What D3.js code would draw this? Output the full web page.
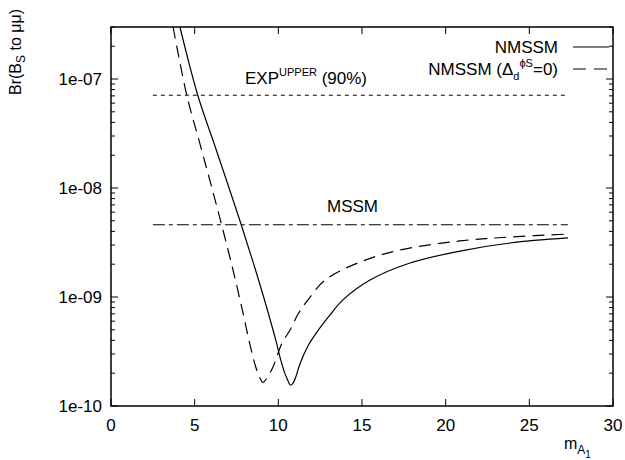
<!DOCTYPE html>
<html>
<head>
<meta charset="utf-8">
<script src="https://cdn.jsdelivr.net/npm/d3@7"></script>
<style>
  body { margin: 0; background: #fff; }
  text { font-family: "Liberation Sans", Arial, sans-serif; fill: #000; }
</style>
</head>
<body>
<div id="chart"></div>
<script>
// ------- Data -------
const nmssmX = [4.12, 5.2, 6.21, 6.99, 7.77, 8.49, 9.14, 9.5, 9.86, 10.16, 10.4, 10.58, 10.73, 10.88, 11.06, 11.29, 11.77, 12.31, 13.09, 13.86, 15.48, 17.87, 20.86, 23.84, 27.31];
const nmssmY = [3.0e-7, 6.98e-8, 2.43e-8, 1.07e-8, 4.67e-9, 2.09e-9, 9.8e-10, 6.28e-10, 3.95e-10, 2.59e-10, 1.97e-10, 1.7e-10, 1.55e-10, 1.62e-10, 1.88e-10, 2.43e-10, 3.55e-10, 4.77e-10, 6.84e-10, 9.4e-10, 1.43e-9, 2.05e-9, 2.64e-9, 3.13e-9, 3.48e-9];

const nmssm0X = [3.71, 4.54, 5.32, 5.98, 6.63, 7.29, 7.89, 8.31, 8.67, 8.9, 9.08, 9.32, 9.68, 10.22, 10.7, 11.18, 11.77, 12.79, 14.88, 17.27, 20.86, 23.84, 27.31];
const nmssm0Y = [3.0e-7, 6.98e-8, 2.53e-8, 1.07e-8, 4.48e-9, 1.77e-9, 7.13e-10, 3.63e-10, 2.23e-10, 1.81e-10, 1.64e-10, 1.81e-10, 2.28e-10, 3.78e-10, 4.98e-10, 6.98e-10, 9.4e-10, 1.43e-9, 2.09e-9, 2.7e-9, 3.27e-9, 3.55e-9, 3.78e-9];

const expUpper = 7.1e-8;
const mssmValue = 4.6e-9;
const refLineRange = [2.5, 27.3];

const xTicks = [0, 5, 10, 15, 20, 25, 30];
const yTicks = [1e-10, 1e-9, 1e-8, 1e-7];
const yTickLabels = ["1e-10", "1e-09", "1e-08", "1e-07"];

// ------- Chart Setup -------
const margin = { top: 27, right: 12, bottom: 54, left: 111 };
const width = 625 - margin.left - margin.right;
const height = 460 - margin.top - margin.bottom;

const svg = d3.select("#chart")
  .append("svg")
  .attr("width", 625)
  .attr("height", 460)
  .append("g")
  .attr("transform", `translate(${margin.left},${margin.top})`);

const x = d3.scaleLinear().domain([0, 30]).range([0, width]);
const y = d3.scaleLog().domain([1e-10, 3e-7]).range([height, 0]);

// clip for curves
svg.append("clipPath").attr("id", "clip")
  .append("rect").attr("width", width).attr("height", height);

// ------- Axes (ticks inward, mirrored) -------
const minorTicks = [];
for (let e = -10; e <= -7; e++) {
  for (let m = 2; m <= 9; m++) {
    const v = m * Math.pow(10, e);
    if (v <= 3e-7) minorTicks.push(v);
  }
}

const axisG = svg.append("g").attr("stroke", "#000").attr("stroke-width", 1);

// bottom & top x ticks
xTicks.forEach(t => {
  axisG.append("line").attr("x1", x(t)).attr("x2", x(t)).attr("y1", height).attr("y2", height - 7);
  axisG.append("line").attr("x1", x(t)).attr("x2", x(t)).attr("y1", 0).attr("y2", 7);
});
// left & right y ticks
yTicks.forEach(t => {
  axisG.append("line").attr("x1", 0).attr("x2", 7).attr("y1", y(t)).attr("y2", y(t));
  axisG.append("line").attr("x1", width).attr("x2", width - 7).attr("y1", y(t)).attr("y2", y(t));
});
minorTicks.forEach(t => {
  axisG.append("line").attr("x1", 0).attr("x2", 4).attr("y1", y(t)).attr("y2", y(t));
  axisG.append("line").attr("x1", width).attr("x2", width - 4).attr("y1", y(t)).attr("y2", y(t));
});

svg.append("rect")
  .attr("width", width).attr("height", height)
  .attr("fill", "none").attr("stroke", "#000").attr("stroke-width", 1.5);

// tick labels
svg.append("g").selectAll("text")
  .data(xTicks).enter().append("text")
  .attr("x", d => x(d)).attr("y", height + 25)
  .attr("text-anchor", "middle").attr("font-size", 17)
  .text(d => d);

svg.append("g").selectAll("text")
  .data(yTicks).enter().append("text")
  .attr("x", -9).attr("y", d => y(d) + 6)
  .attr("text-anchor", "end").attr("font-size", 17)
  .text((d, i) => yTickLabels[i]);

// ------- Axis labels -------
const yl = svg.append("text")
  .attr("transform", `translate(${-90},${52 - margin.top}) rotate(-90)`)
  .attr("text-anchor", "middle").attr("font-size", 16);
yl.append("tspan").text("Br(B");
yl.append("tspan").attr("font-size", 12).attr("dy", 4).text("S");
yl.append("tspan").attr("dy", -4).text(" to μμ)");

const xl = svg.append("text")
  .attr("x", 453).attr("y", height + 43).attr("font-size", 16);
xl.append("tspan").text("m");
xl.append("tspan").attr("font-size", 12).attr("dy", 5).text("A");
xl.append("tspan").attr("font-size", 10).attr("dy", 4).text("1");

// ------- Reference lines -------
svg.append("line")
  .attr("x1", x(refLineRange[0])).attr("x2", x(refLineRange[1]))
  .attr("y1", y(expUpper)).attr("y2", y(expUpper))
  .attr("stroke", "#000").attr("stroke-width", 1)
  .attr("stroke-dasharray", "4,4");

svg.append("line")
  .attr("x1", x(refLineRange[0])).attr("x2", x(refLineRange[1]))
  .attr("y1", y(mssmValue)).attr("y2", y(mssmValue))
  .attr("stroke", "#000").attr("stroke-width", 1)
  .attr("stroke-dasharray", "12,4,4,4");

const expLabel = svg.append("text")
  .attr("x", 134).attr("y", 57).attr("font-size", 17);
expLabel.append("tspan").text("EXP");
expLabel.append("tspan").attr("font-size", 11).attr("dy", -8).text("UPPER");
expLabel.append("tspan").attr("dy", 8).text(" (90%)");

svg.append("text")
  .attr("x", 216).attr("y", 185).attr("font-size", 17)
  .text("MSSM");

// ------- Curves -------
const line = d3.line()
  .x(d => x(d[0]))
  .y(d => y(d[1]))
  .curve(d3.curveCatmullRom.alpha(0.5));

const curves = svg.append("g").attr("clip-path", "url(#clip)");

curves.append("path")
  .datum(nmssmX.map((v, i) => [v, nmssmY[i]]))
  .attr("d", line)
  .attr("fill", "none").attr("stroke", "#000").attr("stroke-width", 1.2);

curves.append("path")
  .datum(nmssm0X.map((v, i) => [v, nmssm0Y[i]]))
  .attr("d", line)
  .attr("fill", "none").attr("stroke", "#000").attr("stroke-width", 1.2)
  .attr("stroke-dasharray", "12,7");

// ------- Legend -------
const legend = svg.append("g").attr("transform", `translate(${width}, 0)`);

legend.append("text")
  .attr("x", -55).attr("y", 26).attr("text-anchor", "end").attr("font-size", 17)
  .text("NMSSM");
legend.append("line")
  .attr("x1", -40).attr("x2", -4).attr("y1", 20).attr("y2", 20)
  .attr("stroke", "#000").attr("stroke-width", 1.2);

const lg2 = legend.append("text")
  .attr("x", -55).attr("y", 48).attr("text-anchor", "end").attr("font-size", 17);
lg2.append("tspan").text("NMSSM (Δ");
lg2.append("tspan").attr("font-size", 11).attr("dy", 5).text("d");
lg2.append("tspan").attr("font-size", 11).attr("dy", -13).text("ϕS");
lg2.append("tspan").attr("dy", 8).text("=0)");
legend.append("line")
  .attr("x1", -40).attr("x2", -4).attr("y1", 42).attr("y2", 42)
  .attr("stroke", "#000").attr("stroke-width", 1.2)
  .attr("stroke-dasharray", "13,8");
</script>
</body>
</html>
